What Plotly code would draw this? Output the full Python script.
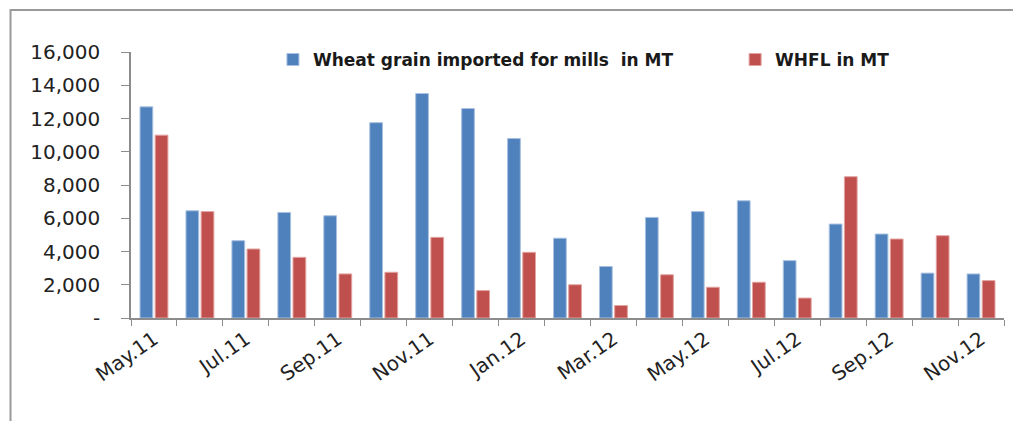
import plotly.graph_objects as go

MONTHS = ["May.11", "Jun.11", "Jul.11", "Aug.11", "Sep.11", "Oct.11", "Nov.11",
          "Dec.11", "Jan.12", "Feb.12", "Mar.12", "Apr.12", "May.12", "Jun.12",
          "Jul.12", "Aug.12", "Sep.12", "Oct.12", "Nov.12"]
WHEAT = [12700, 6450, 4650, 6350, 6150, 11750, 13500, 12600, 10800, 4800,
         3100, 6050, 6400, 7050, 3450, 5650, 5050, 2700, 2650]
WHFL = [11000, 6400, 4150, 3650, 2650, 2750, 4850, 1650, 3950, 2000,
        750, 2600, 1850, 2150, 1200, 8500, 4750, 4950, 2250]
Y_TICKS = [0, 2000, 4000, 6000, 8000, 10000, 12000, 14000, 16000]
Y_LABELS = ["-", "2,000", "4,000", "6,000", "8,000", "10,000", "12,000", "14,000", "16,000"]

BLUE = "#4f81bd"
RED = "#c0504d"
AXIS = "#8c8c8c"
FONT = "DejaVu Sans"

# only every second month gets a label, ticks sit on every boundary
x_labels = [m if i % 2 == 0 else "" for i, m in enumerate(MONTHS)]

fig = go.Figure()
fig.add_trace(go.Bar(
    x=MONTHS, y=WHEAT, name="Wheat grain imported for mills  in MT",
    marker=dict(color=BLUE, line=dict(color="#a9c1e0", width=1)),
    legend="legend",
))
fig.add_trace(go.Bar(
    x=MONTHS, y=WHFL, name="WHFL in MT",
    marker=dict(color=RED, line=dict(color="#e2a3a1", width=1)),
    legend="legend2",
))

# outer chart frame
fig.add_shape(type="rect", xref="paper", yref="paper",
              x0=-0.138, x1=1.0115, y0=-0.45, y1=1.158,
              line=dict(color="#9a9a9a", width=2))
fig.add_shape(type="line", xref="paper", yref="paper",
              x0=1.0135, x1=1.0135, y0=-0.45, y1=1.155,
              line=dict(color="#bdbdbd", width=2))

legend_style = dict(
    orientation="h", yanchor="middle", xanchor="left",
    bgcolor="rgba(0,0,0,0)", borderwidth=0,
    font=dict(family=FONT, size=17, color="#1a1a1a", weight="bold"),
    itemwidth=30,
)

# the page body adds an 8px offset, so margins are shifted to compensate
fig.update_layout(
    width=1021, height=421,
    paper_bgcolor="white", plot_bgcolor="white",
    margin=dict(l=123, r=25, t=44, b=111),
    barmode="group", bargap=0.34, bargroupgap=0.16,
    showlegend=True,
    font=dict(family=FONT, color="#222222"),
    legend=dict(x=0.1626, y=0.97, **legend_style),
    legend2=dict(x=0.692, y=0.97, **legend_style),
    xaxis=dict(
        type="category", tickmode="array", tickvals=MONTHS, ticktext=x_labels,
        tickson="boundaries", ticks="outside", ticklen=6, tickcolor=AXIS,
        showline=True, linecolor=AXIS, linewidth=1.5, showgrid=False,
        tickangle=-35, tickfont=dict(family=FONT, size=20, color="#222222"),
    ),
    yaxis=dict(
        range=[0, 16000], tickmode="array", tickvals=Y_TICKS, ticktext=Y_LABELS,
        ticks="outside", ticklen=8, tickcolor=AXIS,
        showline=True, linecolor=AXIS, linewidth=1.5, showgrid=False, zeroline=False,
        tickfont=dict(family=FONT, size=20, color="#222222"), ticklabelstandoff=17,
    ),
)

fig.write_html("out.html")
